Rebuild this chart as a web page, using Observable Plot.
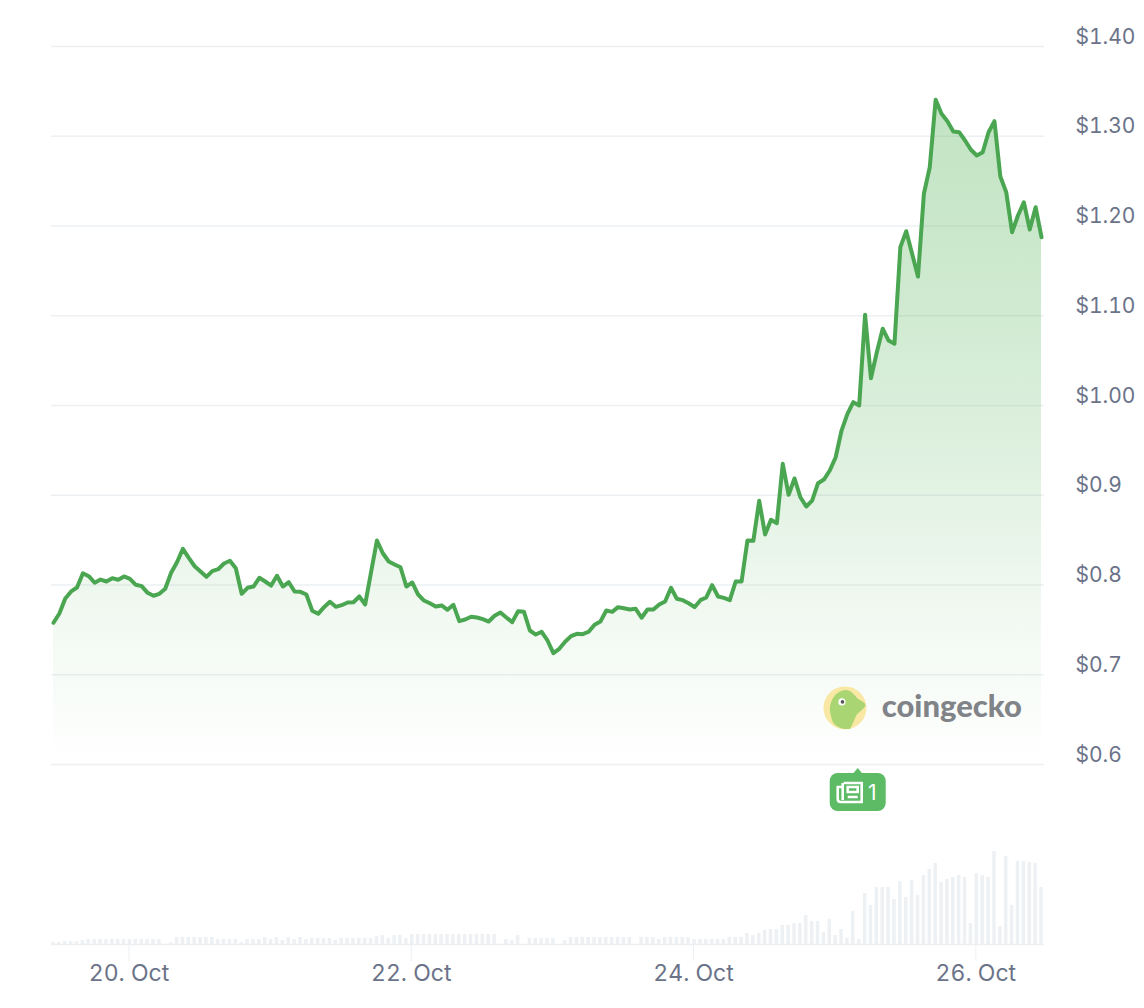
<!DOCTYPE html>
<html>
<head>
<meta charset="utf-8">
<script src="https://cdn.jsdelivr.net/npm/d3@7"></script>
<script src="https://cdn.jsdelivr.net/npm/@observablehq/plot@0.6"></script>
<style>
  html, body { margin: 0; padding: 0; background: #fff; }
  svg { display: block; }
</style>
</head>
<body>
<div id="chart"></div>
<script>
// Hourly USD price, starting 19 Oct 11:10 UTC
const prices = [
  .7579,.7682,.7850,.7928,.7972,.8131,.8098,.8025,.8061,.8039,.8076,.8058,.8095,.8069,.8002,.7987,.7913,.7880,.7902,.7958,
  .8136,.8254,.8403,.8303,.8209,.8150,.8091,.8154,.8176,.8240,.8270,.8187,.7902,.7969,.7983,.8080,.8039,.7994,.8103,.7983,
  .8031,.7928,.7924,.7894,.7713,.7679,.7753,.7813,.7757,.7775,.7805,.7808,.7872,.7783,.8143,.8496,.8354,.8262,.8228,.8198,
  .7983,.8028,.7894,.7827,.7797,.7760,.7772,.7724,.7779,.7597,.7616,.7646,.7638,.7619,.7593,.7657,.7694,.7638,.7586,.7708,
  .7701,.7493,.7448,.7479,.7382,.7240,.7289,.7367,.7430,.7456,.7452,.7479,.7557,.7593,.7716,.7701,.7753,.7741,.7727,.7735,
  .7635,.7727,.7727,.7783,.7816,.7969,.7846,.7831,.7797,.7753,.7831,.7861,.7998,.7872,.7857,.7831,.8039,.8039,.8496,.8492,
  .8938,.8563,.8726,.8689,.9350,.9005,.9187,.8978,.8875,.8941,.9134,.9175,.9276,.9424,.9721,.9907,1.0037,1.0000,1.1011,1.0304,
  1.0594,1.0855,1.0724,1.0687,1.1764,1.1942,1.1690,1.1437,1.2359,1.2655,1.3406,1.3250,1.3168,1.3053,1.3045,1.2953,1.2849,1.2785,1.2822,1.3045,
  1.3168,1.2551,1.2377,1.1931,1.2117,1.2265,1.1961,1.2209,1.1875
];
// Relative hourly volume, same timestamps
const volumes = [
  2,2,3,3,3,4,5,5,5,5,5,5,5,5,5,5,5,5,5,0,
  2,7,7,7,7,7,7,7,5,5,5,5,2,5,5,5,7,5,7,4,
  7,5,7,5,6,6,6,6,4,6,6,6,6,6,6,8,9,6,9,9,
  6,10,10,10,10,10,10,10,10,10,10,10,10,10,10,10,0,5,4,9,
  0,6,6,6,6,6,0,4,7,7,7,7,7,7,7,7,7,7,7,0,
  7,7,7,5,7,7,7,7,7,5,5,5,5,5,5,7,7,7,11,9,
  11,14,15,15,19,19,21,21,29,23,23,12,25,9,15,6,33,5,51,39,
  57,57,57,45,63,47,64,49,69,75,81,62,65,67,69,67,21,71,69,67,
  93,18,88,39,83,83,82,81,57
];
const priceTicks = [0.6,0.7,0.8,0.9,1.0,1.1,1.2,1.3,1.4];
const priceLabels = ["$0.6","$0.7","$0.8","$0.9","$1.00","$1.10","$1.20","$1.30","$1.40"];
const dateTicks = [new Date(Date.UTC(2024,9,20)),new Date(Date.UTC(2024,9,22)),new Date(Date.UTC(2024,9,24)),new Date(Date.UTC(2024,9,26))];
const dateLabels = ["20. Oct","22. Oct","24. Oct","26. Oct"];
const start = Date.UTC(2024,9,19,11,10);
const hour = 3600000;

const rows = prices.map((p,i) => ({t:new Date(start+i*hour), p, v:volumes[i]}));
const xDomain = [rows[0].t, rows[rows.length-1].t];
const labelColor = "#6b7389";
const green = "#4aa651";

const defs = () => {
  const d = d3.create("svg:defs");
  const g = d.append("linearGradient").attr("id","priceFade").attr("x1",0).attr("x2",0).attr("y1",0).attr("y2",1);
  [[0,.34],[.3,.27],[.6,.155],[.75,.085],[.9,.035],[1,0]].forEach(([o,a]) =>
    g.append("stop").attr("offset",o).attr("stop-color","#4caf50").attr("stop-opacity",a));
  return d.node();
};

const logo = (index, scales) => {
  const cx = scales.x(new Date(Date.UTC(2024,9,25,1,50))), cy = scales.y(0.6625);
  const g = d3.create("svg:g").attr("transform",`translate(${cx},${cy})`);
  g.append("circle").attr("r",21.5).attr("fill","#f8e8a4");
  g.append("path").attr("fill","#a9d672")
    .attr("d","M-15 4C-16-8-9-17 0-18 7-18 10-12 13-9 17-7 21-5 20.5-2 17 3 13 4 11 8 9 13 7 17 5 21-3 22-11 18-13 12Z");
  g.append("circle").attr("cx",-3).attr("cy",-6).attr("r",3.6).attr("fill","#fff");
  g.append("circle").attr("cx",-2.5).attr("cy",-6).attr("r",1.8).attr("fill","#555");
  return g.node();
};

const badge = (index, scales) => {
  const cx = scales.x(new Date(Date.UTC(2024,9,25,4,0)));
  const top = scales.y(0.6)+9;
  const g = d3.create("svg:g").attr("transform",`translate(${cx},${top})`);
  g.append("path").attr("fill","#5cbb64").attr("d","M-5 1L0-5L5 1Z");
  g.append("rect").attr("x",-28).attr("y",0).attr("width",56).attr("height",38).attr("rx",8).attr("fill","#5cbb64");
  g.append("path").attr("fill","none").attr("stroke","#fff").attr("stroke-width",2.6)
    .attr("d","M-14 10H4V29H-17Q-20 29-20 26V14H-15M-15 10V27M-10 14H0V19H-10ZM-10 24H0");
  g.append("text").attr("x",14.5).attr("y",27).attr("text-anchor","middle").attr("fill","#fff")
    .attr("font-size",21).attr("font-family","Inter").text("1");
  return g.node();
};

const pricePlot = Plot.plot({
  width:1144, height:820, marginTop:0, marginLeft:51, marginRight:100, marginBottom:56,
  style:{fontFamily:"Inter, 'Noto Sans', sans-serif", fontSize:"21px", background:"transparent"},
  x:{type:"time", domain:xDomain, range:[53,1041], axis:null},
  y:{type:"linear", domain:[0.6,1.4], range:[764,46]},
  marks:[
    defs,
    Plot.gridY(priceTicks,{stroke:"#edf0f3", strokeOpacity:1, strokeWidth:1.6}),
    Plot.axisY({anchor:"right", ticks:priceTicks, tickSize:0, tickPadding:31, dy:-9.5, label:null,
      tickFormat:v => priceLabels[priceTicks.indexOf(v)], fill:labelColor}),
    Plot.areaY(rows,{x:"t", y1:()=>0.6, y2:"p", fill:"url(#priceFade)"}),
    Plot.line(rows,{x:"t", y:"p", stroke:green, strokeWidth:4, strokeLinejoin:"round", strokeLinecap:"round"}),
    logo,
    Plot.text(["coingecko"],{x:()=>new Date(Date.UTC(2024,9,25,8,0)), y:()=>0.6645, text:d=>d, textAnchor:"start",
      fontSize:31, fontWeight:900, fontFamily:"Lato", fill:"#808387"}),
    badge
  ]
});

const volumePlot = Plot.plot({
  width:1144, height:188, marginTop:0, marginLeft:51, marginRight:100, marginBottom:64,
  style:{fontFamily:"Inter, 'Noto Sans', sans-serif", fontSize:"23px", background:"transparent"},
  x:{type:"time", domain:xDomain, range:[53,1041]},
  y:{type:"linear", domain:[0,100], range:[124,24], axis:null},
  marks:[
    Plot.rectY(rows,{x1:d=>new Date(+d.t-0.3*hour), x2:d=>new Date(+d.t+0.3*hour), y1:0, y2:"v", fill:"#eef1f4"}),
    Plot.ruleY([0],{stroke:"#edf0f3", strokeWidth:1.6}),
    Plot.axisX({anchor:"bottom", ticks:dateTicks, tickSize:17, tickPadding:3, label:null, stroke:"#edf0f3", fill:labelColor,
      tickFormat:v => dateLabels[dateTicks.findIndex(d => +d === +v)]})
  ]
});

document.getElementById("chart").append(pricePlot, volumePlot);
</script>
</body>
</html>
